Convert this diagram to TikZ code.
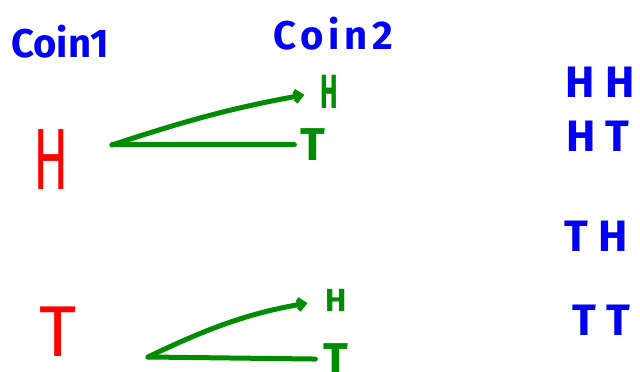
\documentclass[tikz,border=0pt]{standalone}
\usepackage{fontspec}
\setmainfont{Fira Sans}
\usepackage{tikz}
\usetikzlibrary{arrows.meta}
\definecolor{penblue}{RGB}{0,0,245}
\definecolor{penred}{RGB}{255,0,0}
\definecolor{pengreen}{RGB}{0,140,0}

\begin{document}
\begin{tikzpicture}[x=1pt, y=1pt, >={Straight Barb[length=6pt,width=11pt]},
  hd/.style={text=penblue, inner sep=0pt, font=\fontsize{40}{44}\selectfont\bfseries},
  first/.style={text=penred, inner sep=0pt},
  second/.style={text=pengreen, inner sep=0pt, font=\bfseries},
  res/.style={text=penblue, inner sep=0pt, font=\fontsize{44}{48}\selectfont\bfseries},
  br/.style={draw=pengreen, line width=5pt, line cap=round, line join=round}]
\useasboundingbox (0,0) rectangle (640,372);
% headings
\node[hd] (coinA) at (60,330) {Coin1};
\node[hd] (coinB) at (333,338) {\addfontfeature{LetterSpace=12}Coin2};
% first coin
\node[first, font=\fontsize{87}{90}\selectfont] (fh) at (51,212) {\scalebox{0.6}[1]{H}};
\node[first, font=\fontsize{72}{76}\selectfont] (ft) at (58,40) {T};
% second coin
\node[second, font=\fontsize{48}{50}\selectfont\bfseries] (hh) at (329,280) {\scalebox{0.55}[1]{H}};
\node[second, font=\fontsize{46}{50}\selectfont\bfseries] (ht) at (313,227) {T};
\node[second, font=\fontsize{32}{36}\selectfont\bfseries] (th) at (336,72) {H};
\node[second, font=\fontsize{46}{50}\selectfont\bfseries, anchor=north] (tt) at (336,29) {T};
% branches
\coordinate (vh) at (112,227);
\coordinate (vt) at (148,15);
\draw[br, ->, shorten >=16pt] (vh) to[bend left=4] (hh.west);
\draw[br, shorten >=6pt] (vh) -- (ht.west);
\draw[br, ->, shorten >=18pt] (vt) to[bend left=8] (th.west);
\draw[br, shorten >=8pt] (vt) -- (tt.west);
% outcomes
\node[res] (rHH) at (600,290) {H H};
\node[res] (rHT) at (598,236) {H T};
\node[res] (rTH) at (596,136) {T H};
\node[res] (rTT) at (601,52) {T T};
\end{tikzpicture}
\end{document}
